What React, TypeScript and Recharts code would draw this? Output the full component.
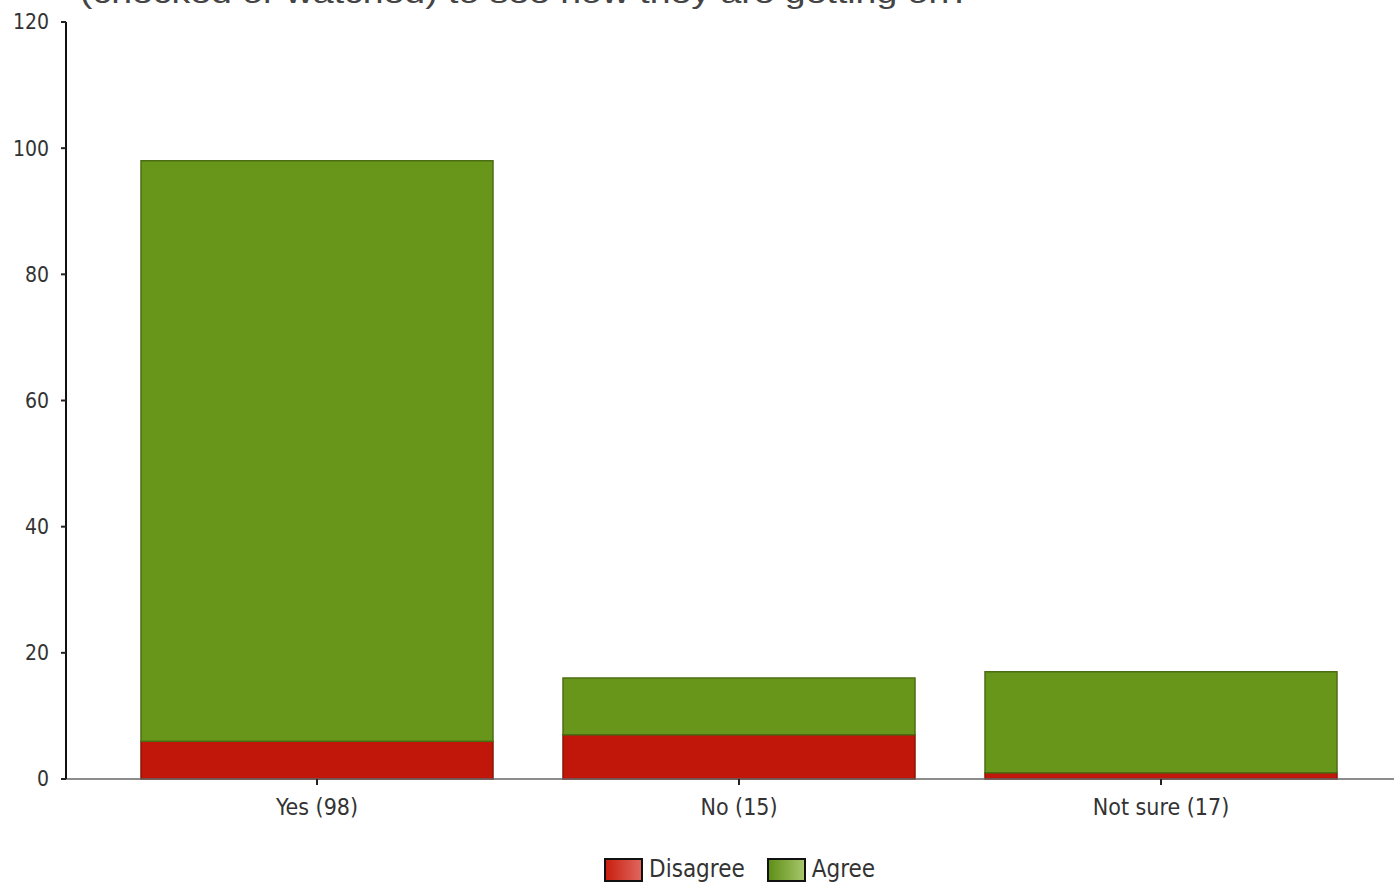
import React from "react";
import { BarChart, Bar, XAxis, YAxis } from "recharts";

const categories = ["Yes (98)", "No (15)", "Not sure (17)"];
const disagree = [6, 7, 1];
const agree = [92, 9, 16];
const yTicks = [0, 20, 40, 60, 80, 100, 120];
const seriesNames = ["Disagree", "Agree"];

const data = categories.map((name, i) => ({ name, disagree: disagree[i], agree: agree[i] }));

const FONT = '"Liberation Sans Narrow", "Arial Narrow", "DejaVu Sans Condensed", sans-serif';
const RED = "#c1160a";
const GREEN = "#67961a";

const swatches = [
  { name: seriesNames[0], bg: "linear-gradient(90deg, #c8200f, #e0665e)" },
  { name: seriesNames[1], bg: "linear-gradient(90deg, #5f8f18, #a6c66a)" },
];

export default function App() {
  return (
    <div style={{ position: "absolute", left: 0, top: 0, width: 1394, height: 883, background: "#fff", overflow: "hidden" }}>
      <svg width={1394} height={20} style={{ position: "absolute", left: 0, top: 0 }}>
        <text x={80} y={3} fontSize={30} fill="#444" fontFamily="Arial, Liberation Sans, sans-serif" textLength={890} lengthAdjust="spacingAndGlyphs">
          (checked or watched) to see how they are getting on?
        </text>
      </svg>
      <BarChart
        width={1394}
        height={883}
        data={data}
        margin={{ top: 22, right: 0, left: 0, bottom: 64 }}
        barSize={352}
      >
        <XAxis
          dataKey="name"
          height={40}
          padding={{ left: 40, right: 22 }}
          axisLine={{ stroke: "#666", strokeWidth: 1.5 }}
          tickLine={{ stroke: "#222", strokeWidth: 2 }}
          tickSize={6}
          tickMargin={14}
          tick={{ fill: "#333", fontSize: 23, fontFamily: FONT }}
        />
        <YAxis
          width={66}
          domain={[0, 120]}
          ticks={yTicks}
          interval={0}
          axisLine={{ stroke: "#111", strokeWidth: 2 }}
          tickLine={{ stroke: "#222", strokeWidth: 2 }}
          tickSize={5}
          tickMargin={12}
          tick={{ fill: "#333", fontSize: 21, fontFamily: FONT }}
        />
        <Bar dataKey="disagree" name={seriesNames[0]} stackId="a" fill={RED} stroke="#8a1408" strokeWidth={1.5} isAnimationActive={false} />
        <Bar dataKey="agree" name={seriesNames[1]} stackId="a" fill={GREEN} stroke="#4c6e12" strokeWidth={1.5} isAnimationActive={false} />
      </BarChart>
      <div style={{ position: "absolute", top: 857, left: 604, display: "flex", gap: 22, fontFamily: FONT, fontSize: 24, color: "#333" }}>
        {swatches.map((s) => (
          <div key={s.name} style={{ display: "flex", alignItems: "center", gap: 6 }}>
            <span style={{ display: "inline-block", width: 35, height: 20, border: "2px solid #111", background: s.bg }} />
            <span style={{ lineHeight: "25px" }}>{s.name}</span>
          </div>
        ))}
      </div>
    </div>
  );
}
